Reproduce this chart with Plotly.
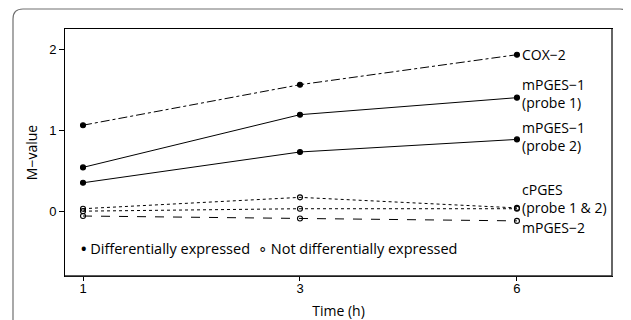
import plotly.graph_objects as go

times = ["1", "3", "6"]
cox2 = [1.06, 1.56, 1.93]
mpges1_p1 = [0.54, 1.19, 1.40]
mpges1_p2 = [0.35, 0.73, 0.885]
cpges_p1 = [0.03, 0.17, 0.04]
cpges_p2 = [0.00, 0.03, 0.03]
mpges2 = [-0.06, -0.09, -0.12]

series = [
    ("COX−2", cox2, "dashdot", True),
    ("mPGES−1 (probe 1)", mpges1_p1, "solid", True),
    ("mPGES−1 (probe 2)", mpges1_p2, "solid", True),
    ("cPGES (probe 1)", cpges_p1, "dot", False),
    ("cPGES (probe 2)", cpges_p2, "dot", False),
    ("mPGES−2", mpges2, "dash", False),
]

fig = go.Figure()
for name, vals, dash, filled in series:
    fig.add_trace(go.Scatter(
        x=times, y=vals, mode="lines+markers", name=name,
        line=dict(color="black", width=1, dash=dash),
        marker=dict(symbol="circle" if filled else "circle-open",
                    size=5, color="black",
                    line=dict(color="black", width=1.1)),
        showlegend=False, cliponaxis=False,
    ))

lab_font = dict(family="Open Sans, Noto Sans, sans-serif", size=14, color="black")
# (text, anchor value, vertical pixel shift)
labels = [
    ("COX−2", cox2[2], 0),
    ("mPGES−1<br>(probe 1)", mpges1_p1[2], 4),
    ("mPGES−1<br>(probe 2)", mpges1_p2[2], 3),
    ("cPGES<br>(probe 1 &amp; 2)", cpges_p1[2], 9),
    ("mPGES−2", mpges2[2], -7),
]
for txt, y, ys in labels:
    fig.add_annotation(x=2, y=y, xref="x", yref="y", text=txt, showarrow=False,
                       xanchor="left", yanchor="middle", xshift=4, yshift=ys,
                       align="left", font=lab_font, borderpad=0)

leg_font = dict(family="Open Sans, Noto Sans, sans-serif", size=14.5, color="black")
fig.add_annotation(x=0.025, y=0.11, xref="paper", yref="paper",
                   text="<b>•</b> Differentially expressed", showarrow=False,
                   xanchor="left", yanchor="middle", font=leg_font)
fig.add_annotation(x=0.350, y=0.11, xref="paper", yref="paper",
                   text="∘ Not differentially expressed", showarrow=False,
                   xanchor="left", yanchor="middle", font=leg_font)

# outer rounded frame (coordinates in window pixels, converted to paper units)
pw, ph = 547.0, 247.0
def px(x):
    return (x - 65) / pw
def py(y):
    return (276 - y) / ph
x0, x1, yt, yb, r = px(13), px(630), py(9), py(340), 10
rx, ry = r / pw, r / ph
path = (f"M {x0},{yb} L {x0},{yt-ry} Q {x0},{yt} {x0+rx},{yt} "
        f"L {x1-rx},{yt} Q {x1},{yt} {x1},{yt-ry} L {x1},{yb}")
fig.add_shape(type="path", path=path, xref="paper", yref="paper",
              line=dict(color="#707070", width=1.2), layer="below")
# heavier right and bottom edges of the plot box
fig.add_shape(type="line", x0=1, x1=1, y0=0, y1=1, xref="paper", yref="paper",
              line=dict(color="#666666", width=2))
fig.add_shape(type="line", x0=0, x1=1, y0=0, y1=0, xref="paper", yref="paper",
              line=dict(color="#222222", width=1.6))

tick_font = dict(family="Liberation Sans, Arial, sans-serif", size=13, color="black")
title_font = dict(family="Open Sans, Noto Sans, sans-serif", size=14, color="black")
fig.update_layout(
    width=623, height=312,
    margin=dict(l=57, r=19, t=21, b=44),
    paper_bgcolor="white", plot_bgcolor="white",
    xaxis=dict(type="category", range=[-0.083, 2.438], showgrid=False,
               zeroline=False, showline=True, linecolor="black", linewidth=1,
               mirror=True, ticks="outside", ticklen=4, tickcolor="black",
               tickfont=tick_font, automargin=False, ticklabelstandoff=-4,
               title=dict(text="Time (h)", font=title_font, standoff=11)),
    yaxis=dict(range=[-0.80, 2.247], showgrid=False, zeroline=False,
               showline=True, linecolor="black", linewidth=1, mirror=True,
               ticks="outside", ticklen=5, tickcolor="black", automargin=False,
               tickvals=[0, 1, 2], ticktext=["0", "1", "2"], tickfont=tick_font,
               title=dict(text="M−value", font=title_font, standoff=8)),
)

fig.write_html("out.html")
